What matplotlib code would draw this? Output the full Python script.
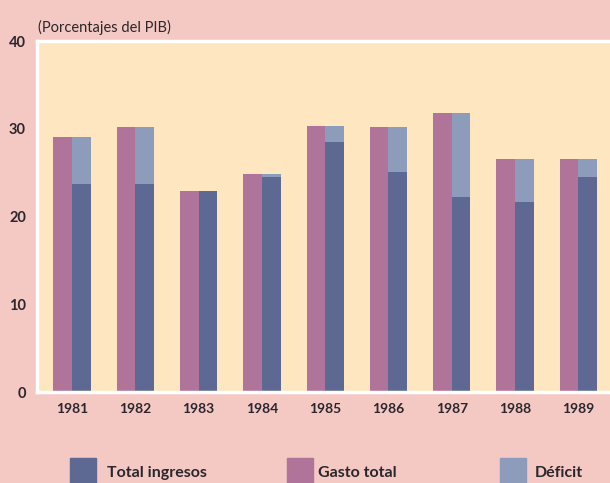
import matplotlib
matplotlib.use("Agg")
from matplotlib import pyplot as plt
from matplotlib.patches import Rectangle
import numpy as np

years = ["1981", "1982", "1983", "1984", "1985", "1986", "1987", "1988", "1989"]
gasto_total = [29.1, 30.2, 22.9, 24.8, 30.3, 30.2, 31.8, 26.5, 26.5]
total_ingresos = [23.7, 23.7, 22.9, 24.5, 28.5, 25.1, 22.2, 21.6, 24.5]
deficit = [g - i for g, i in zip(gasto_total, total_ingresos)]
yticks = [0, 10, 20, 30, 40]
legend_labels = ["Total ingresos", "Gasto total", "Déficit"]

pink_bg = "#f4c8c3"
plot_bg = "#fde6c0"
c_gasto = "#b0739a"
c_ingresos = "#5d6893"
c_deficit = "#8d9cbb"
text_col = "#2a262c"

plt.rcParams['font.family'] = ['Lato', 'DejaVu Sans']

fig = plt.figure(figsize=(6.10, 4.83), dpi=100, facecolor=pink_bg)
ax = fig.add_axes([0.0607, 0.1884, 0.9393, 0.7267])
ax.set_facecolor(plot_bg)

x = np.arange(len(years))
w = 0.295
ax.bar(x - w / 2, gasto_total, width=w, color=c_gasto, zorder=2)
ax.bar(x + w / 2, total_ingresos, width=w, color=c_ingresos, zorder=2)
ax.bar(x + w / 2, deficit, width=w, bottom=total_ingresos, color=c_deficit, zorder=2)

ax.set_xlim(-0.553, 8.5)
ax.set_ylim(0, 40)
ax.set_xticks(x)
ax.set_xticklabels(years, fontsize=10, fontweight="bold", color=text_col)
ax.set_yticks(yticks)
ax.set_yticklabels([str(t) for t in yticks], fontsize=10.5, fontweight="bold", color=text_col)
ax.tick_params(axis="both", length=0)
ax.tick_params(axis="x", pad=8)
ax.tick_params(axis="y", pad=8)

for side in ["left", "top", "bottom"]:
    ax.spines[side].set_color("white")
    ax.spines[side].set_linewidth(2.5)
ax.spines["right"].set_visible(False)

fig.text(38 / 610, 1 - 27 / 483, "(Porcentajes del PIB)", fontsize=10.5, color=text_col,
         ha="left", va="center")

# legend along the bottom
legend_colors = [c_ingresos, c_gasto, c_deficit]
sq_x = [70, 287, 500]
txt_x = [107, 318, 535]
for lab, col, sx, tx in zip(legend_labels, legend_colors, sq_x, txt_x):
    fig.add_artist(Rectangle((sx / 610, 0), 26 / 610, 25 / 483, color=col,
                             transform=fig.transFigure))
    fig.text(tx / 610, 1 - 473 / 483, lab, fontsize=11.5, fontweight="bold",
             color=text_col, ha="left", va="center")

fig.savefig("out.png", dpi=100, facecolor=pink_bg)
